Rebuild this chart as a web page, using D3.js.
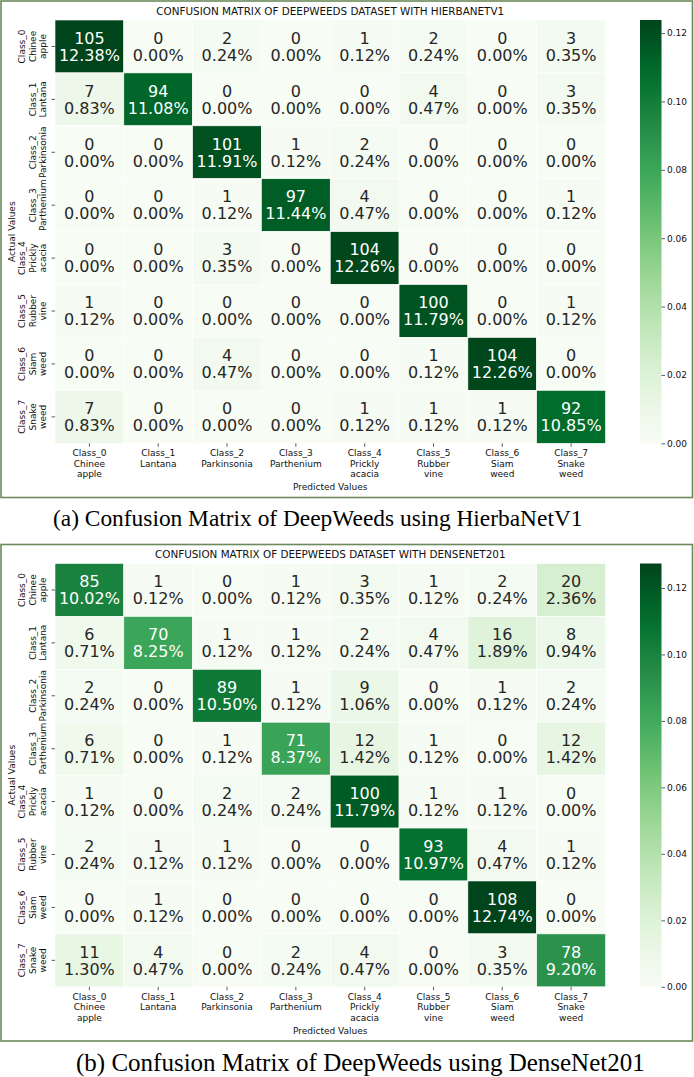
<!DOCTYPE html>
<html><head><meta charset="utf-8">
<script src="https://cdn.jsdelivr.net/npm/d3@7"></script>
<style>body{margin:0;background:#fff} svg{display:block}</style>
</head><body>
<svg id="c" width="694" height="1077"></svg>
<script>
// ---- data ----
const classLabels = [
  ["Class_0","Chinee","apple"],
  ["Class_1","Lantana"],
  ["Class_2","Parkinsonia"],
  ["Class_3","Parthenium"],
  ["Class_4","Prickly","acacia"],
  ["Class_5","Rubber","vine"],
  ["Class_6","Siam","weed"],
  ["Class_7","Snake","weed"]
];
const hierbaCounts = [
  [105,0,2,0,1,2,0,3],
  [7,94,0,0,0,4,0,3],
  [0,0,101,1,2,0,0,0],
  [0,0,1,97,4,0,0,1],
  [0,0,3,0,104,0,0,0],
  [1,0,0,0,0,100,0,1],
  [0,0,4,0,0,1,104,0],
  [7,0,0,0,1,1,1,92]
];
const densenetCounts = [
  [85,1,0,1,3,1,2,20],
  [6,70,1,1,2,4,16,8],
  [2,0,89,1,9,0,1,2],
  [6,0,1,71,12,1,0,12],
  [1,0,2,2,100,1,1,0],
  [2,1,1,0,0,93,4,1],
  [0,1,0,0,0,0,108,0],
  [11,4,0,2,4,0,3,78]
];
const panelTitles = ["CONFUSION MATRIX OF DEEPWEEDS DATASET WITH HIERBANETV1","CONFUSION MATRIX OF DEEPWEEDS DATASET WITH DENSENET201"];
const captions = ["(a) Confusion Matrix of DeepWeeds using HierbaNetV1","(b) Confusion Matrix of DeepWeeds using DenseNet201"];
const cbarTicks = [0,0.02,0.04,0.06,0.08,0.10,0.12];
const greens = ["#f7fcf5","#e5f5e0","#c7e9c0","#a1d99b","#74c476","#41ab5d","#238b45","#006d2c","#00441b"];

// ---- layout ----
const svg = d3.select("#c");
const FONT = "DejaVu Sans, sans-serif";
const panels = [
  {counts: hierbaCounts, title: panelTitles[0], caption: captions[0], oy: 0, capX: 53, capY: 526, capSize: 23.4},
  {counts: densenetCounts, title: panelTitles[1], caption: captions[1], oy: 543.5, capX: 76, capY: 1071, capSize: 25}
];
const hm = {x0: 55, x1: 605.5, y0: 20, y1: 443.3};
const cb = {x0: 640, x1: 661.5};

function lum(c){
  const r = d3.rgb(c);
  const f = v => { v/=255; return v <= 0.03928 ? v/12.92 : Math.pow((v+0.055)/1.055, 2.4); };
  return 0.2126*f(r.r)+0.7152*f(r.g)+0.0722*f(r.b);
}

panels.forEach((p, pi) => {
  const g = svg.append("g").attr("transform", `translate(0,${p.oy})`);
  const total = d3.sum(p.counts.flat());
  const fracs = p.counts.map(r => r.map(v => v/total));
  const vmax = d3.max(fracs.flat());
  const cs = d3.scaleLinear().domain(greens.map((_, i) => vmax*i/(greens.length-1))).range(greens).interpolate(d3.interpolateRgb);

  // frame
  g.append("rect").attr("x",1).attr("y",1).attr("width",691.5).attr("height",496.5)
    .attr("fill","none").attr("stroke","#6b8a5b").attr("stroke-width",1.6);

  const n = classLabels.length;
  const xs = d3.scaleBand().domain(d3.range(n)).range([hm.x0, hm.x1]);
  const ys = d3.scaleBand().domain(d3.range(n)).range([hm.y0, hm.y1]);

  const cells = [];
  p.counts.forEach((row, i) => row.forEach((v, j) => cells.push({i, j, v, f: v/total})));

  g.selectAll("rect.cell").data(cells).enter().append("rect").attr("class","cell")
    .attr("x", d => xs(d.j)).attr("y", d => ys(d.i))
    .attr("width", xs.bandwidth()).attr("height", ys.bandwidth())
    .attr("fill", d => cs(d.f)).attr("stroke","#ffffff").attr("stroke-width",0.6);

  const fmt = d3.format(".2%");
  const txt = g.selectAll("text.ann").data(cells).enter().append("text").attr("class","ann")
    .attr("x", d => xs(d.j) + xs.bandwidth()/2)
    .attr("y", d => ys(d.i) + ys.bandwidth()/2)
    .attr("text-anchor","middle").attr("font-family",FONT).attr("font-size",16)
    .attr("fill", d => lum(cs(d.f)) > 0.408 ? "#262626" : "#ffffff");
  txt.append("tspan").attr("x", d => xs(d.j) + xs.bandwidth()/2).attr("dy", -2.7).text(d => d.v);
  txt.append("tspan").attr("x", d => xs(d.j) + xs.bandwidth()/2).attr("dy", 17).text(d => fmt(d.f));

  // title
  g.append("text").attr("x", (hm.x0+hm.x1)/2).attr("y", 14.8).attr("text-anchor","middle")
    .attr("font-family",FONT).attr("font-size",10.4).attr("fill","#111").text(p.title);

  // x ticks
  const xt = g.append("g");
  classLabels.forEach((lab, j) => {
    const cx = xs(j) + xs.bandwidth()/2;
    xt.append("line").attr("x1",cx).attr("x2",cx).attr("y1",hm.y1).attr("y2",hm.y1+3.5).attr("stroke","#333").attr("stroke-width",0.8);
    const t = xt.append("text").attr("text-anchor","middle").attr("font-family",FONT).attr("font-size",9).attr("fill","#111");
    lab.forEach((s, k) => t.append("tspan").attr("x",cx).attr("y", hm.y1 + 13 + k*10.5).text(s));
  });
  // y ticks
  const yt = g.append("g");
  classLabels.forEach((lab, i) => {
    const cy = ys(i) + ys.bandwidth()/2;
    yt.append("line").attr("x1",hm.x0-3.5).attr("x2",hm.x0).attr("y1",cy).attr("y2",cy).attr("stroke","#333").attr("stroke-width",0.8);
    const m = lab.length;
    lab.forEach((s, k) => {
      const lx = 46 - (m-1-k)*10.5;
      yt.append("text").attr("transform",`translate(${lx},${cy}) rotate(-90)`)
        .attr("text-anchor","middle").attr("font-family",FONT).attr("font-size",9).attr("fill","#111").text(s);
    });
  });

  // axis labels
  g.append("text").attr("transform",`translate(15,${(hm.y0+hm.y1)/2}) rotate(-90)`).attr("text-anchor","middle")
    .attr("font-family",FONT).attr("font-size",9).attr("fill","#111").text("Actual Values");
  g.append("text").attr("x",(hm.x0+hm.x1)/2).attr("y",490).attr("text-anchor","middle")
    .attr("font-family",FONT).attr("font-size",9).attr("fill","#111").text("Predicted Values");

  // colorbar
  const gid = "grad"+pi;
  const grad = svg.append("defs").append("linearGradient").attr("id",gid).attr("x1",0).attr("y1",1).attr("x2",0).attr("y2",0);
  d3.range(0,1.0001,0.05).forEach(t => grad.append("stop").attr("offset",t).attr("stop-color",cs(t*vmax)));
  g.append("rect").attr("x",cb.x0).attr("y",hm.y0).attr("width",cb.x1-cb.x0).attr("height",hm.y1-hm.y0).attr("fill",`url(#${gid})`);
  const cy = d3.scaleLinear().domain([0,vmax]).range([hm.y1,hm.y0]);
  const cax = d3.axisRight(cy).tickValues(cbarTicks).tickFormat(d3.format(".2f")).tickSize(3.5).tickPadding(2);
  const ag = g.append("g").attr("transform",`translate(${cb.x1},0)`).call(cax);
  ag.select(".domain").remove();
  ag.selectAll("text").attr("font-family",FONT).attr("font-size",9).attr("fill","#111");
  ag.selectAll("line").attr("stroke","#333").attr("stroke-width",0.8);

  // caption
  svg.append("text").attr("x",p.capX).attr("y",p.capY).attr("font-family","Liberation Serif, Times New Roman, serif")
    .attr("font-size",p.capSize).attr("fill","#000").text(p.caption);
});
</script>
</body></html>
